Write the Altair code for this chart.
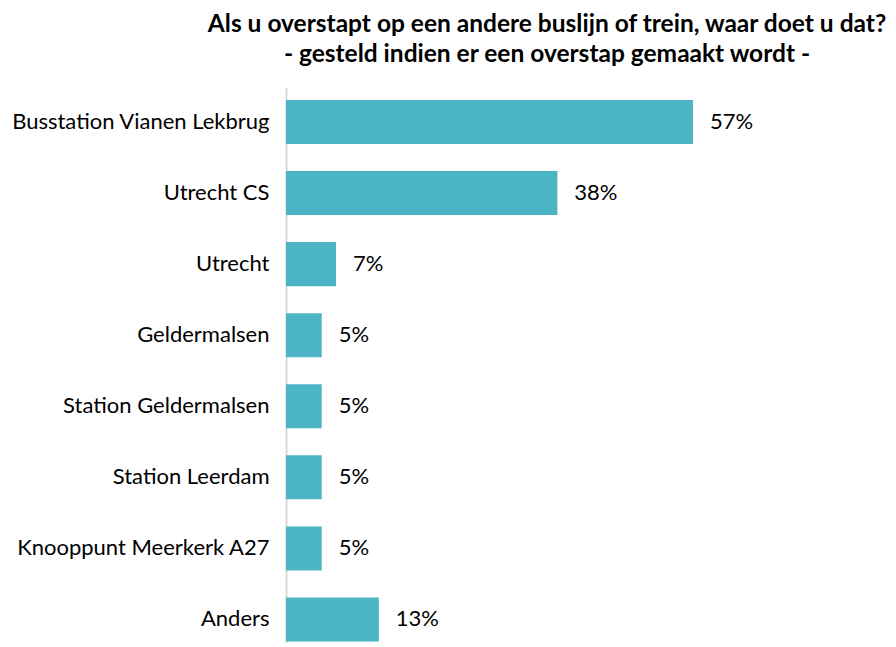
import altair as alt
import pandas as pd

categories = ["Busstation Vianen Lekbrug", "Utrecht CS", "Utrecht", "Geldermalsen",
              "Station Geldermalsen", "Station Leerdam", "Knooppunt Meerkerk A27", "Anders"]
values = [57, 38, 7, 5, 5, 5, 5, 13]
labels = ["57%", "38%", "7%", "5%", "5%", "5%", "5%", "13%"]
title_lines = ["Als u overstapt op een andere buslijn of trein, waar doet u dat?",
               "- gesteld indien er een overstap gemaakt wordt -"]

df = pd.DataFrame({"cat": categories, "val": values, "lab": labels})

FONT = "Lato"
y_enc = alt.Y("cat:N", sort=categories, title=None,
              scale=alt.Scale(paddingInner=0.38, paddingOuter=0.1016, align=0.897),
              axis=alt.Axis(ticks=False, grid=False, labelFontSize=22, labelFont=FONT,
                            labelColor="#000000", labelPadding=17, domainColor="#d9d9d9",
                            domainWidth=2, labelLimit=400))
x_enc = alt.X("val:Q", scale=alt.Scale(domain=[0, 73.1], nice=False, zero=True), axis=None)

bars = alt.Chart(df).mark_bar(color="#4BB5C5").encode(y=y_enc, x=x_enc)
text = alt.Chart(df).mark_text(align="left", baseline="middle", dx=17, fontSize=22,
                               font=FONT, color="#000000").encode(
    y=alt.Y("cat:N", sort=categories), x="val:Q", text="lab:N")

chart = alt.layer(bars, text).properties(
    width=522, height=556,
    padding={"top": 3, "left": 2, "right": 0, "bottom": 0},
    title=alt.TitleParams(title_lines, fontSize=24.5, font=FONT, fontWeight="bold",
                          color="#000000", anchor="middle", lineHeight=30, offset=20),
).configure_view(stroke=None)

chart.save("out.html", embed_options={"renderer": "svg", "actions": False})
